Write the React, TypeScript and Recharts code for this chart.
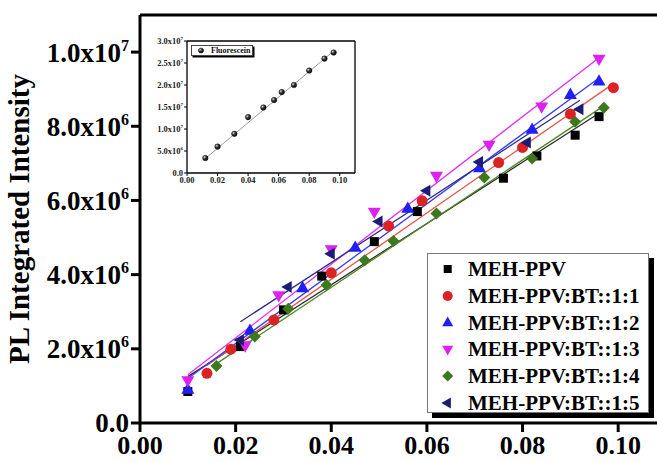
import { ScatterChart, Scatter, XAxis, YAxis, ReferenceLine } from 'recharts'

const FONT = "'Liberation Serif', 'Times New Roman', Times, serif"

// main panel axes
const X_TICKS = [0, 0.02, 0.04, 0.06, 0.08, 0.1]
const Y_TICKS = [0, 2e6, 4e6, 6e6, 8e6, 1e7]

// inset axes
const INSET_Y_TICKS = [0, 5e6, 1e7, 1.5e7, 2e7, 2.5e7, 3e7]

// MEH-PPV
const mehX = [0.01, 0.021, 0.03, 0.038, 0.049, 0.058, 0.076, 0.083, 0.091, 0.096]
const mehY = [0.85e6, 2.06e6, 3.05e6, 3.96e6, 4.89e6, 5.7e6, 6.6e6, 7.2e6, 7.76e6, 8.26e6]
const mehFitX = [0.01, 0.096]
const mehFitY = [1.25e6, 8.35e6]

// MEH-PPV:BT::1:1
const bt11X = [0.014, 0.019, 0.028, 0.04, 0.052, 0.059, 0.075, 0.08, 0.09, 0.099]
const bt11Y = [1.34e6, 1.99e6, 2.78e6, 4.05e6, 5.31e6, 5.99e6, 7.02e6, 7.43e6, 8.33e6, 9.04e6]
const bt11FitX = [0.014, 0.099]
const bt11FitY = [1.55e6, 9.15e6]

// MEH-PPV:BT::1:2
const bt12X = [0.01, 0.023, 0.034, 0.045, 0.056, 0.071, 0.082, 0.09, 0.096]
const bt12Y = [0.89e6, 2.48e6, 3.63e6, 4.72e6, 5.77e6, 6.86e6, 7.9e6, 8.84e6, 9.2e6]
const bt12FitX = [0.01, 0.096]
const bt12FitY = [1.2e6, 9.3e6]

// MEH-PPV:BT::1:3
const bt13X = [0.01, 0.022, 0.029, 0.04, 0.049, 0.062, 0.073, 0.084, 0.096]
const bt13Y = [1.16e6, 2.1e6, 3.45e6, 4.69e6, 5.7e6, 6.67e6, 7.51e6, 8.54e6, 9.83e6]
const bt13FitX = [0.01, 0.096]
const bt13FitY = [1.3e6, 9.85e6]

// MEH-PPV:BT::1:4
const bt14X = [0.016, 0.024, 0.031, 0.039, 0.047, 0.053, 0.062, 0.072, 0.082, 0.091, 0.097]
const bt14Y = [1.54e6, 2.33e6, 3.08e6, 3.72e6, 4.39e6, 4.91e6, 5.65e6, 6.62e6, 7.13e6, 8.12e6, 8.5e6]
const bt14FitX = [0.016, 0.097]
const bt14FitY = [1.6e6, 8.55e6]

// MEH-PPV:BT::1:5
const bt15X = [0.021, 0.031, 0.04, 0.05, 0.06, 0.071, 0.081, 0.092]
const bt15Y = [2.24e6, 3.67e6, 4.56e6, 5.43e6, 6.26e6, 7.04e6, 7.56e6, 8.46e6]
const bt15FitX = [0.021, 0.092]
const bt15FitY = [2.73e6, 8.7e6]

// Fluorescein (inset)
const fluX = [0.012, 0.02, 0.031, 0.04, 0.05, 0.057, 0.062, 0.07, 0.08, 0.09, 0.096]
const fluY = [0.34e7, 0.6e7, 0.89e7, 1.27e7, 1.49e7, 1.66e7, 1.84e7, 2.0e7, 2.33e7, 2.6e7, 2.74e7]
const fluFitX = [0.012, 0.096]
const fluFitY = [0.33e7, 2.77e7]

const zip = (xs: number[], ys: number[]) => xs.map((x, i) => ({ x, y: ys[i] }))

type Kind = 'square' | 'circle' | 'up' | 'down' | 'diamond' | 'left'

const SERIES = [
  { name: 'MEH-PPV', xs: mehX, ys: mehY, fx: mehFitX, fy: mehFitY, kind: 'square' as Kind, color: '#000000', line: '#2a2a2a', size: 9, legendSize: 8 },
  { name: 'MEH-PPV:BT::1:1', xs: bt11X, ys: bt11Y, fx: bt11FitX, fy: bt11FitY, kind: 'circle' as Kind, color: '#dc2323', line: '#e2584a', size: 11, legendSize: 10 },
  { name: 'MEH-PPV:BT::1:2', xs: bt12X, ys: bt12Y, fx: bt12FitX, fy: bt12FitY, kind: 'up' as Kind, color: '#2020f2', line: '#3a3aff', size: 13, legendSize: 11 },
  { name: 'MEH-PPV:BT::1:3', xs: bt13X, ys: bt13Y, fx: bt13FitX, fy: bt13FitY, kind: 'down' as Kind, color: '#dd22ee', line: '#e030f0', size: 13, legendSize: 11 },
  { name: 'MEH-PPV:BT::1:4', xs: bt14X, ys: bt14Y, fx: bt14FitX, fy: bt14FitY, kind: 'diamond' as Kind, color: '#3c781c', line: '#4d8a2a', size: 12, legendSize: 11 },
  { name: 'MEH-PPV:BT::1:5', xs: bt15X, ys: bt15Y, fx: bt15FitX, fy: bt15FitY, kind: 'left' as Kind, color: '#1c1c78', line: '#2c2c86', size: 12, legendSize: 11 }
]

function Marker({ cx, cy, kind, color, s }: { cx: number; cy: number; kind: Kind; color: string; s: number }) {
  if (cx == null || cy == null) return null
  const h = s * 0.87
  switch (kind) {
    case 'square':
      return <rect x={cx - s / 2} y={cy - s / 2} width={s} height={s} fill={color} />
    case 'circle':
      return <circle cx={cx} cy={cy} r={s / 2} fill={color} />
    case 'up':
      return <polygon points={`${cx},${cy - (h * 2) / 3} ${cx + s / 2},${cy + h / 3} ${cx - s / 2},${cy + h / 3}`} fill={color} />
    case 'down':
      return <polygon points={`${cx},${cy + (h * 2) / 3} ${cx + s / 2},${cy - h / 3} ${cx - s / 2},${cy - h / 3}`} fill={color} />
    case 'left':
      return <polygon points={`${cx - (h * 2) / 3},${cy} ${cx + h / 3},${cy - s / 2} ${cx + h / 3},${cy + s / 2}`} fill={color} />
    default:
      return <polygon points={`${cx},${cy - s / 2} ${cx + s / 2},${cy} ${cx},${cy + s / 2} ${cx - s / 2},${cy}`} fill={color} />
  }
}

function powerLabel(v: number) {
  if (v === 0) return { m: '0.0', e: '' }
  const e = Math.floor(Math.log10(v) + 1e-9)
  return { m: (v / 10 ** e).toFixed(1) + 'x10', e: String(e) }
}

const makeYTick = (size: number, supSize: number, rise: number, color: string) => (props: any) => {
  const { x, y, payload } = props
  const { m, e } = powerLabel(payload.value)
  return (
    <text x={x} y={y} dy={size * 0.35} textAnchor="end" fill={color} fontSize={size} fontWeight={700} fontFamily={FONT}>
      {m}
      {e && <tspan dy={-rise} fontSize={supSize}>{e}</tspan>}
    </text>
  )
}

function MainChart() {
  return (
    <ScatterChart width={680} height={462} margin={{ top: 15, right: 14, bottom: 0, left: 0 }}>
      <XAxis
        type="number"
        dataKey="x"
        domain={[0, 0.11]}
        ticks={X_TICKS}
        interval={0}
        allowDataOverflow
        height={39}
        tickSize={9}
        tickMargin={4}
        tickFormatter={(v) => Number(v).toFixed(2)}
        axisLine={{ stroke: '#000', strokeWidth: 3 }}
        tickLine={{ stroke: '#000', strokeWidth: 3 }}
        tick={{ fill: '#000', fontSize: 26, fontWeight: 700, fontFamily: FONT }}
      />
      <YAxis
        type="number"
        dataKey="y"
        domain={[0, 1.1e7]}
        ticks={Y_TICKS}
        interval={0}
        allowDataOverflow
        width={140}
        tickSize={9}
        tickMargin={2}
        axisLine={{ stroke: '#000', strokeWidth: 3 }}
        tickLine={{ stroke: '#000', strokeWidth: 3 }}
        tick={makeYTick(27, 16, 11, '#000')}
      />
      <ReferenceLine y={1.1e7} stroke="#000" strokeWidth={3} />
      <ReferenceLine x={0.11} stroke="#000" strokeWidth={3} />
      {SERIES.map((s) => (
        <Scatter
          key={s.name}
          name={s.name}
          data={zip(s.xs, s.ys)}
          fill={s.color}
          isAnimationActive={false}
          shape={(p: any) => <Marker cx={p.cx} cy={p.cy} kind={s.kind} color={s.color} s={s.size} />}
        />
      ))}
      {SERIES.map((s) => (
        <ReferenceLine
          key={s.name + '-fit'}
          segment={zip(s.fx, s.fy)}
          stroke={s.line}
          strokeWidth={1.3}
        />
      ))}
    </ScatterChart>
  )
}

function InsetChart() {
  return (
    <ScatterChart width={230} height={172} margin={{ top: 21, right: 15, bottom: 0, left: 0 }}>
      <defs>
        <radialGradient id="ball" cx="35%" cy="35%" r="70%">
          <stop offset="0%" stopColor="#d8d8d8" />
          <stop offset="45%" stopColor="#3a3030" />
          <stop offset="100%" stopColor="#000" />
        </radialGradient>
      </defs>
      <XAxis
        type="number"
        dataKey="x"
        domain={[0, 0.11]}
        ticks={X_TICKS}
        interval={0}
        allowDataOverflow
        height={19}
        tickSize={3}
        tickMargin={1}
        tickFormatter={(v) => Number(v).toFixed(2)}
        axisLine={{ stroke: '#000', strokeWidth: 1.3 }}
        tickLine={{ stroke: '#000', strokeWidth: 1 }}
        tick={{ fill: '#222', fontSize: 8.5, fontWeight: 700, fontFamily: FONT }}
      />
      <YAxis
        type="number"
        dataKey="y"
        domain={[0, 3e7]}
        ticks={INSET_Y_TICKS}
        interval={0}
        allowDataOverflow
        width={47}
        tickSize={3}
        tickMargin={1}
        axisLine={{ stroke: '#000', strokeWidth: 1.3 }}
        tickLine={{ stroke: '#000', strokeWidth: 1 }}
        tick={makeYTick(8.5, 5, 3.5, '#222')}
      />
      <ReferenceLine y={3e7} stroke="#000" strokeWidth={1.3} />
      <ReferenceLine x={0.11} stroke="#000" strokeWidth={1.3} />
      <ReferenceLine segment={zip(fluFitX, fluFitY)} stroke="#9a9a9a" strokeWidth={1} />
      <Scatter
        name="Fluorescein"
        data={zip(fluX, fluY)}
        fill="#222"
        isAnimationActive={false}
        shape={(p: any) =>
          p.cx == null ? null : <circle cx={p.cx} cy={p.cy} r={2.8} fill="url(#ball)" stroke="#111" strokeWidth={0.4} />
        }
      />
    </ScatterChart>
  )
}

export default function App() {
  return (
    <div style={{ position: 'absolute', left: 0, top: 0, width: 657, height: 462, overflow: 'hidden', background: '#fff' }}>
      <div style={{ position: 'absolute', left: 0, top: 0 }}>
        <MainChart />
      </div>
      <svg width={50} height={462} style={{ position: 'absolute', left: 0, top: 0 }}>
        <text
          x={0}
          y={0}
          transform="translate(29,219) rotate(-90)"
          textAnchor="middle"
          fontFamily={FONT}
          fontWeight={700}
          fontSize={29}
          fill="#000"
        >
          PL Integrated Intensity
        </text>
      </svg>
      <div style={{ position: 'absolute', left: 140, top: 20 }}>
        <InsetChart />
      </div>
      <div
        style={{
          position: 'absolute',
          left: 191,
          top: 45,
          width: 62,
          height: 11,
          boxSizing: 'border-box',
          border: '1px solid #444',
          background: '#fff',
          boxShadow: '1.5px 1.5px 0 #000',
          fontFamily: FONT,
          fontWeight: 700,
          fontSize: 8,
          color: '#111',
          display: 'flex',
          alignItems: 'center'
        }}
      >
        <svg width={19} height={9}>
          <circle cx={9} cy={4.5} r={2.6} fill="url(#ball)" stroke="#111" strokeWidth={0.4} />
        </svg>
        <span style={{ whiteSpace: 'nowrap', lineHeight: '9px' }}>Fluorescein</span>
      </div>
      <div
        style={{
          position: 'absolute',
          left: 427,
          top: 253,
          width: 222,
          height: 160,
          boxSizing: 'border-box',
          border: '1px solid #777',
          background: '#fff',
          boxShadow: '5px 5px 0 #000'
        }}
      >
        {SERIES.map((s, i) => (
          <div
            key={s.name}
            style={{ position: 'absolute', left: 0, top: 2 + i * 26.8, height: 26, display: 'flex', alignItems: 'center' }}
          >
            <svg width={40} height={26}>
              <Marker cx={19.7} cy={13} kind={s.kind} color={s.color} s={s.legendSize} />
            </svg>
            <span style={{ fontFamily: FONT, fontWeight: 700, fontSize: 21, color: '#000', whiteSpace: 'nowrap', lineHeight: '26px' }}>
              {s.name}
            </span>
          </div>
        ))}
      </div>
    </div>
  )
}
